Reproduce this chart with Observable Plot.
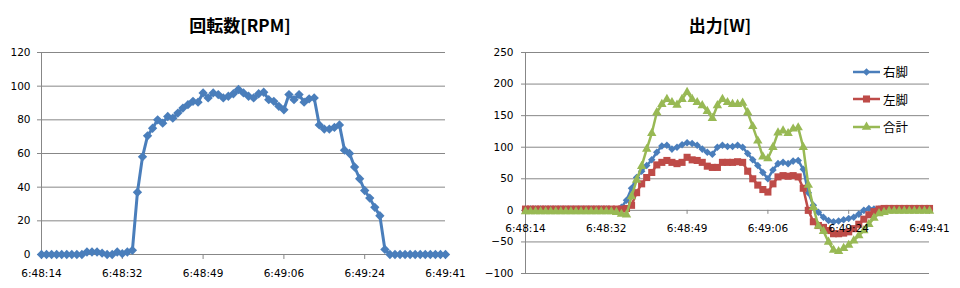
<!DOCTYPE html>
<html><head><meta charset="utf-8">
<script src="https://cdn.jsdelivr.net/npm/d3@7"></script>
<script src="https://cdn.jsdelivr.net/npm/@observablehq/plot@0.6"></script>
<style>
html,body{margin:0;padding:0;background:#fff;}
#wrap{display:flex;width:960px;height:288px;}
.panel{position:relative;width:480px;height:288px;}
.panel svg{display:block;}
.title{position:absolute;left:0;right:0;top:14px;text-align:center;font-family:"Noto Sans CJK JP";font-weight:bold;font-size:17px;line-height:22px;color:#000;}
.legend{position:absolute;left:373px;top:58px;font-family:"Noto Sans CJK JP";font-size:12.5px;color:#000;}
.legend .item{display:flex;align-items:center;height:27.5px;}
.legend .item svg{margin-right:3px;}
</style></head><body>
<div id="wrap">
  <div class="panel" id="p1"><div class="title">回転数[RPM]</div></div>
  <div class="panel" id="p2"><div class="title">出力[W]</div><div class="legend" id="leg"></div></div>
</div>
<script>
// ---- data ----
const timeLabels = ["6:48:14","6:48:32","6:48:49","6:49:06","6:49:24","6:49:41"];
const labelStep = 16; // categories between labelled ticks

const rpm = [
  0,0,0,0,0,0,0,0,0,
  1.5,1.5,1.5,0.8,0,0,1.5,0.5,1.5,2.5,
  37,58,70.5,75,80,78,82,81,84,87,89,91,90.5,96,
  93,96,95,93,94,95.5,98,96,94,93,95.5,96.4,92,91,88,86,
  95,92,95,90.5,92.5,93,
  77,74.5,74.5,75.5,77,
  62,60,52,45,38,33.5,28,23,3,
  0,0,0,0,0,0,0,0,0,0,0,0
];

const seriesNames = ["右脚","左脚","合計"];
const rightLeg = [
  2,2,2,2,2,2,2,2,2,2,2,2,2,2,2,2,2,1,1,
  5,16,35,52,62,71,80,92,102,103,97,100,104,107,106,103,97,92,89,100,103,101,101,103,100,90,80,71,60,50,64,74,76,74,78,79,65,28,8,-3,-11,-16,-18,-17,-15,-13,-11,-6,0,3,
  2,2,2,2,2,2,2,2,2,2,2,2
];
const leftLeg = [
  2,2,2,2,2,2,2,2,2,2,2,2,2,2,2,2,2,2,2,2,
  3,8,28,42,52,60,72,76,79,76,74,76,84,80,79,76,70,68,68,76,76,76,77,76,62,50,40,33,29,42,53,55,54,55,53,35,0,-18,-24,-27,-32,-37,-37,-36,-34,-29,-22,-14,-7,-2,2,
  3,3,3,3,3,3,3,3,3,3
];
const total = [
  -2,-2,-2,-2,-2,-2,-2,-2,-2,-2,-2,-2,-2,-2,-2,-2,-2,-2,
  -3,-6,-7,22,48,70,97,122,155,168,176,171,167,176,187,176,171,166,157,146,166,176,171,168,168,170,155,133,110,85,82,100,123,126,122,129,131,100,40,5,-25,-33,-50,-63,-65,-60,-55,-48,-40,-32,-22,-12,-5,-3,-1,
  -1,-1,-1,-1,-1,-1,-1,-1
];

const rpmTicks = [0,20,40,60,80,100,120];
const powerTicks = [-100,-50,0,50,100,150,200,250];

// ---- styles ----
const blue = "#4A7EBB", red = "#BE4B48", green = "#98B954";
const gridColor = "#878787";
const axisFont = {fontFamily: "DejaVu Sans", fontSize: "10.5px", color: "#000", background: "transparent", overflow: "visible"};

const idx = d3.range(rpm.length);
const tickIdx = timeLabels.map((_, k) => k * labelStep);
const fmt = i => timeLabels[Math.round(i / labelStep)];

function seriesMarks(values, color, symbol, r, sw) {
  return [
    Plot.line(idx, {x: i => i, y: i => values[i], stroke: color, strokeWidth: sw, strokeLinejoin: "round"}),
    Plot.dot(idx, {x: i => i, y: i => values[i], symbol, r, fill: color, stroke: "none"})
  ];
}

// ---- left chart: RPM ----
const left = Plot.plot({
  width: 480, height: 288,
  marginLeft: 41, marginRight: 35, marginTop: 52, marginBottom: 34,
  style: axisFont,
  x: {domain: [0, rpm.length - 1], label: null},
  y: {domain: [0, 120], label: null},
  marks: [
    Plot.gridY(rpmTicks, {stroke: gridColor, strokeOpacity: 1}),
    Plot.axisY(rpmTicks, {tickSize: 4, tickPadding: 7, stroke: gridColor, fill: "#000"}),
    Plot.ruleX([0], {stroke: gridColor}),
    Plot.axisX(tickIdx, {tickFormat: fmt, tickSize: 5, tickPadding: 10, stroke: gridColor, fill: "#000"}),
    ...seriesMarks(rpm, blue, "diamond2", 4.2, 3)
  ]
});
document.getElementById("p1").appendChild(left);

// ---- right chart: power ----
const right = Plot.plot({
  width: 480, height: 288,
  marginLeft: 45, marginRight: 31, marginTop: 52, marginBottom: 15,
  style: axisFont,
  x: {domain: [0, rightLeg.length - 1], label: null, axis: null},
  y: {domain: [-100, 250], label: null},
  marks: [
    Plot.gridY(powerTicks, {stroke: gridColor, strokeOpacity: 1}),
    Plot.axisY(powerTicks, {tickSize: 4, tickPadding: 8, stroke: gridColor, fill: "#000"}),
    Plot.ruleX([0], {stroke: gridColor}),
    Plot.ruleX(tickIdx, {x: d => d, y1: 0, y2: 0, insetBottom: -4, stroke: gridColor}),
    ...seriesMarks(rightLeg, blue, "diamond2", 3.4, 2.5),
    ...seriesMarks(leftLeg, red, "square", 4.0, 2.5),
    ...seriesMarks(total, green, "triangle", 3.5, 2.5),
    Plot.text(tickIdx, {x: d => d, y: 0, text: fmt, dy: 14, lineAnchor: "top", fill: "#000"})
  ]
});
document.getElementById("p2").appendChild(right);

// ---- legend ----
const legendSeries = [
  {name: seriesNames[0], color: blue, sym: d3.symbolDiamond2, r: 3.4},
  {name: seriesNames[1], color: red, sym: d3.symbolSquare, r: 4.0},
  {name: seriesNames[2], color: green, sym: d3.symbolTriangle, r: 3.5}
];
const leg = d3.select("#leg");
legendSeries.forEach(s => {
  const item = leg.append("div").attr("class", "item");
  const svg = item.append("svg").attr("width", 27).attr("height", 14);
  svg.append("line").attr("x1", 0).attr("x2", 27).attr("y1", 7).attr("y2", 7)
     .attr("stroke", s.color).attr("stroke-width", 2.5);
  svg.append("path").attr("transform", "translate(13.5,7)")
     .attr("d", d3.symbol(s.sym, Math.PI * s.r * s.r)()).attr("fill", s.color);
  item.append("span").text(s.name);
});
</script>
</body></html>
